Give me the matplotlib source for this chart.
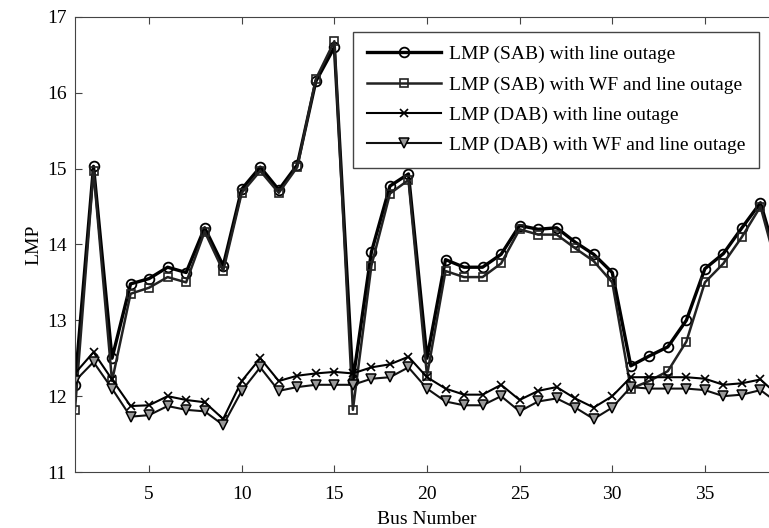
import matplotlib.pyplot as plt
import numpy as np

plt.rcParams['font.family'] = ['Liberation Serif', 'DejaVu Serif']

bus = np.arange(1, 40)

lmp_sab = [12.15, 15.03, 12.5, 13.48, 13.55, 13.7, 13.63, 14.22, 13.72, 14.73,
           15.02, 14.72, 15.05, 16.15, 16.6, 12.2, 13.9, 14.77, 14.93, 12.5,
           13.8, 13.7, 13.7, 13.87, 14.25, 14.2, 14.22, 14.03, 13.87, 13.63,
           12.4, 12.53, 12.65, 13.0, 13.68, 13.88, 14.22, 14.55, 13.7]

lmp_sab_wf = [11.82, 14.97, 12.2, 13.35, 13.43, 13.57, 13.5, 14.17, 13.65, 14.68,
              14.97, 14.68, 15.02, 16.18, 16.68, 11.82, 13.72, 14.67, 14.85, 12.27,
              13.65, 13.57, 13.57, 13.75, 14.2, 14.13, 14.13, 13.95, 13.78, 13.5,
              12.1, 12.2, 12.33, 12.72, 13.5, 13.75, 14.1, 14.5, 13.6]

lmp_dab = [12.3, 12.58, 12.22, 11.87, 11.88, 12.0, 11.95, 11.92, 11.7, 12.2,
           12.5, 12.2, 12.27, 12.3, 12.32, 12.3, 12.38, 12.42, 12.52, 12.25,
           12.1, 12.02, 12.02, 12.15, 11.95, 12.07, 12.12, 11.97, 11.85, 12.0,
           12.25, 12.25, 12.25, 12.25, 12.23, 12.15, 12.17, 12.22, 12.0]

lmp_dab_wf = [12.2, 12.45, 12.1, 11.73, 11.75, 11.87, 11.82, 11.8, 11.62, 12.07,
              12.38, 12.07, 12.12, 12.15, 12.15, 12.15, 12.23, 12.25, 12.38, 12.1,
              11.93, 11.88, 11.88, 12.0, 11.8, 11.93, 11.97, 11.85, 11.7, 11.85,
              12.12, 12.1, 12.1, 12.1, 12.08, 12.0, 12.02, 12.08, 11.9]

fig = plt.figure(figsize=(7.69, 5.28), dpi=100)
ax = fig.add_axes([0.0975, 0.106, 0.9155, 0.862])

ax.plot(bus, lmp_sab, color='k', linewidth=2.4, marker='o', markersize=7,
        fillstyle='none', markeredgewidth=1.3, label='LMP (SAB) with line outage')
ax.plot(bus, lmp_sab_wf, color='#222222', linewidth=1.8, marker='s', markersize=6,
        fillstyle='none', markeredgewidth=1.2, label='LMP (SAB) with WF and line outage')
ax.plot(bus, lmp_dab, color='k', linewidth=1.5, marker='x', markersize=6,
        markeredgewidth=1.2, label='LMP (DAB) with line outage')
ax.plot(bus, lmp_dab_wf, color='#111111', linewidth=1.5, marker='v', markersize=7,
        markerfacecolor='#999999', markeredgecolor='k', markeredgewidth=1.1,
        label='LMP (DAB) with WF and line outage')

ax.set_xlim(1, 39)
ax.set_ylim(11, 17)
ax.set_xticks([5, 10, 15, 20, 25, 30, 35])
ax.set_yticks([11, 12, 13, 14, 15, 16, 17])
ax.tick_params(direction='in', top=True, right=True, labelsize=14, length=5, color='#444444')
ax.tick_params(axis='x', pad=10)
ax.tick_params(axis='y', pad=6)
for s in ax.spines.values():
    s.set_color('#444444')

ax.set_xlabel('Bus Number', fontsize=14, labelpad=6)
ax.set_ylabel('LMP', fontsize=14, labelpad=3)

ax.legend(loc='upper left', bbox_to_anchor=(0.395, 0.967), borderaxespad=0,
          fontsize=14, handlelength=3.8, handletextpad=0.45, labelspacing=0.65,
          borderpad=0.7, fancybox=False, edgecolor='#444444', framealpha=1)

plt.savefig('out.png', dpi=100)
